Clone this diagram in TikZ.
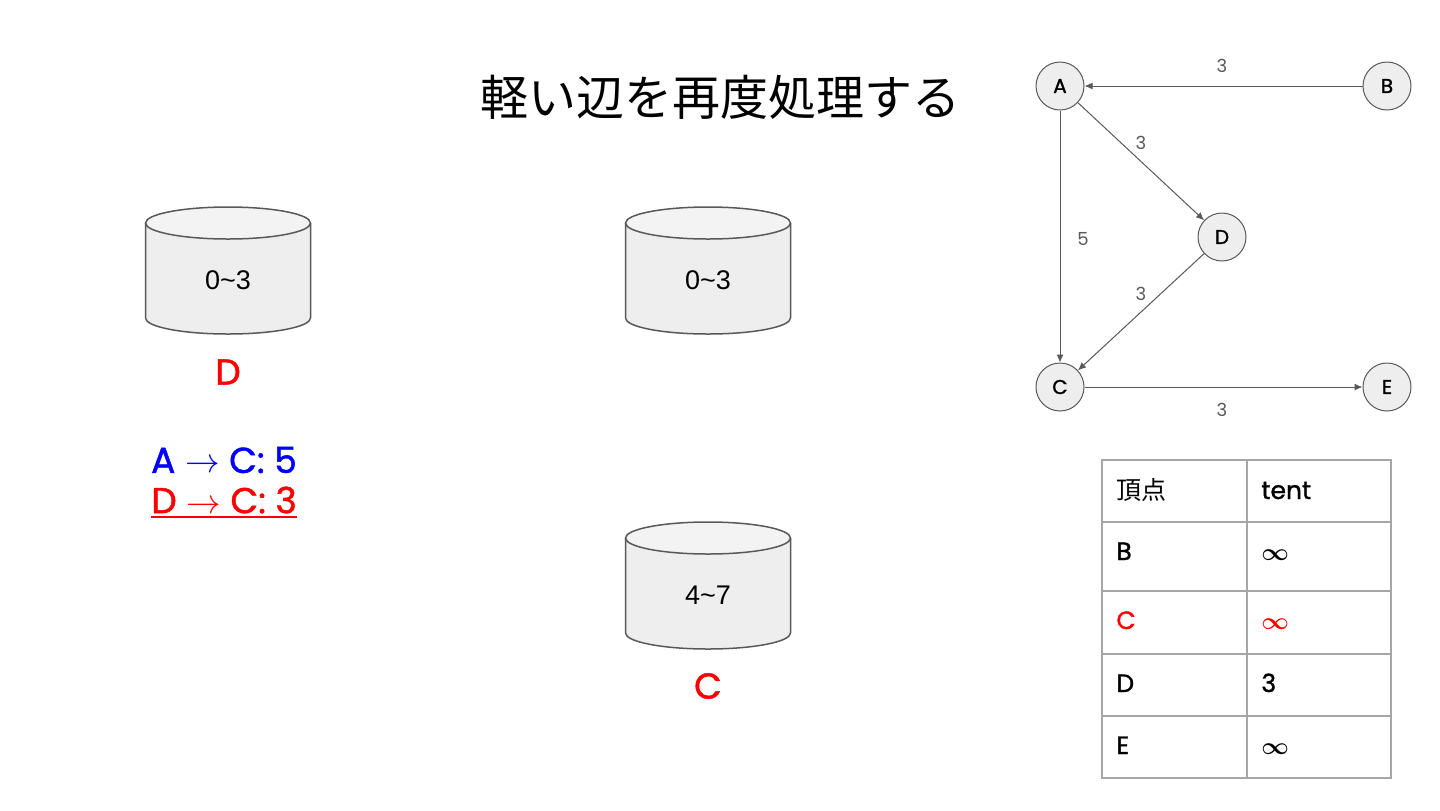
\documentclass[tikz,border=0pt]{standalone}
\usepackage{fontspec}
\setmainfont{Poppins}
\newfontfamily\medfont{Poppins}[FakeBold=1.3]
\newfontfamily\cjkfont{Noto Sans CJK JP}
\newfontfamily\arialfont{Liberation Sans}
\newfontfamily\symfont{DejaVu Sans}
\usetikzlibrary{arrows.meta}
\definecolor{edgegray}{HTML}{595959}
\definecolor{cylgray}{HTML}{595959}
\definecolor{cylbody}{HTML}{EEEEEE}
\definecolor{cyltop}{HTML}{F3F3F3}
\definecolor{gridgray}{HTML}{A6A6A6}
\definecolor{nodefill}{HTML}{EEEEEE}
\definecolor{myred}{HTML}{FF0000}
\definecolor{myblue}{HTML}{0000FF}
\newcommand\myinf{{\boldmath$\infty$}}
\tikzset{
  vertex/.style={circle, draw=edgegray, fill=nodefill, line width=0.5pt, minimum size=24pt, inner sep=0pt, font=\medfont\fontsize{10}{12}\selectfont},
  edge/.style={draw=edgegray, line width=0.5pt, -{Latex[length=4pt,width=3.5pt]}},
  elabel/.style={text=edgegray, font=\fontsize{9}{11}\selectfont, inner sep=0pt},
  cyltext/.style={font=\arialfont\fontsize{13.5}{16}\selectfont, inner sep=0pt},
  redlabel/.style={text=myred, font=\medfont\fontsize{18}{22}\selectfont, inner sep=0pt},
  listtext/.style={font=\medfont\fontsize{18}{22}\selectfont, inner sep=0pt},
  cell/.style={anchor=west, inner sep=0pt, text height=0.7em, text depth=0pt, font=\medfont\fontsize{12.5}{14}\selectfont},
  grid/.style={draw=gridgray, line width=1pt},
  cylline/.style={draw=cylgray, line width=0.75pt},
}
\newcommand\mycyl[3]{%
  \fill[cylbody] (#1-82.5,#2) -- (#1-82.5,#3) arc[start angle=180,end angle=360,x radius=41.25pt,y radius=8pt] -- (#1+82.5,#2) -- cycle;
  \fill[cyltop] (#1,#2) ellipse[x radius=41.25pt,y radius=8pt];
  \draw[cylline] (#1-82.5,#2) -- (#1-82.5,#3) arc[start angle=180,end angle=360,x radius=41.25pt,y radius=8pt] -- (#1+82.5,#2);
  \draw[cylline] (#1,#2) ellipse[x radius=41.25pt,y radius=8pt];
}
\begin{document}
\begin{tikzpicture}[x=0.5pt,y=-0.5pt]
\useasboundingbox[fill=white] (0,0) rectangle (1440,810);

% title
\node[font=\cjkfont\fontsize{24}{28}\selectfont, inner sep=0pt] (title) at (720,97) {軽い辺を再度処理する};

% cylinders
\mycyl{228}{223}{318}
\node[cyltext] (cyl1) at (228,280) {0\textasciitilde3};
\node[redlabel] (lblD) at (228,372) {D};

\mycyl{708}{223}{318}
\node[cyltext] (cyl2) at (708,280) {0\textasciitilde3};

\mycyl{708}{538}{633}
\node[cyltext] (cyl3) at (708,595) {4\textasciitilde7};
\node[redlabel] (lblC) at (708,686) {C};

% edge list
\node[listtext, text=myblue] (e1) at (224,460) {A $\rightarrow$ C: 5};
\node[listtext, text=myred] (e2) at (224,500) {D $\rightarrow$ C: 3};
\draw[myred, line width=1pt] ([yshift=-1.5pt]e2.south west) -- ([yshift=-1.5pt]e2.south east);

% graph
\node[vertex] (A) at (1060,86) {A};
\node[vertex] (B) at (1387,86) {B};
\node[vertex] (D) at (1222,237) {D};
\node[vertex] (C) at (1060,387) {C};
\node[vertex] (E) at (1387,387) {E};
\draw[edge] (B) -- (A);
\draw[edge] (A) -- (D);
\draw[edge] (A) -- (C);
\draw[edge] (D) -- (C);
\draw[edge] (C) -- (E);
\node[elabel] (lBA) at (1222,66) {3};
\node[elabel] (lAD) at (1141,143) {3};
\node[elabel] (lAC) at (1083,239) {5};
\node[elabel] (lDC) at (1141,294) {3};
\node[elabel] (lCE) at (1222,410) {3};

% table
\draw[grid] (1102,460) rectangle (1391,778);
\draw[grid] (1247,460) -- (1247,778);
\foreach \yy in {522,591,654,716} \draw[grid] (1102,\yy) -- (1391,\yy);
\node[cell, font=\cjkfont\fontsize{12.5}{14}\selectfont] (h1) at (1116,492) {頂点};
\node[cell] (h2) at (1261,492) {tent};
\node[cell] (r1a) at (1116,553) {B};
\node[cell] (r1b) at (1261,553) {\myinf};
\node[cell, text=myred] (r2a) at (1116,622) {C};
\node[cell, text=myred] (r2b) at (1261,622) {\myinf};
\node[cell] (r3a) at (1116,685) {D};
\node[cell] (r3b) at (1261,685) {3};
\node[cell] (r4a) at (1116,747) {E};
\node[cell] (r4b) at (1261,747) {\myinf};
\end{tikzpicture}
\end{document}
